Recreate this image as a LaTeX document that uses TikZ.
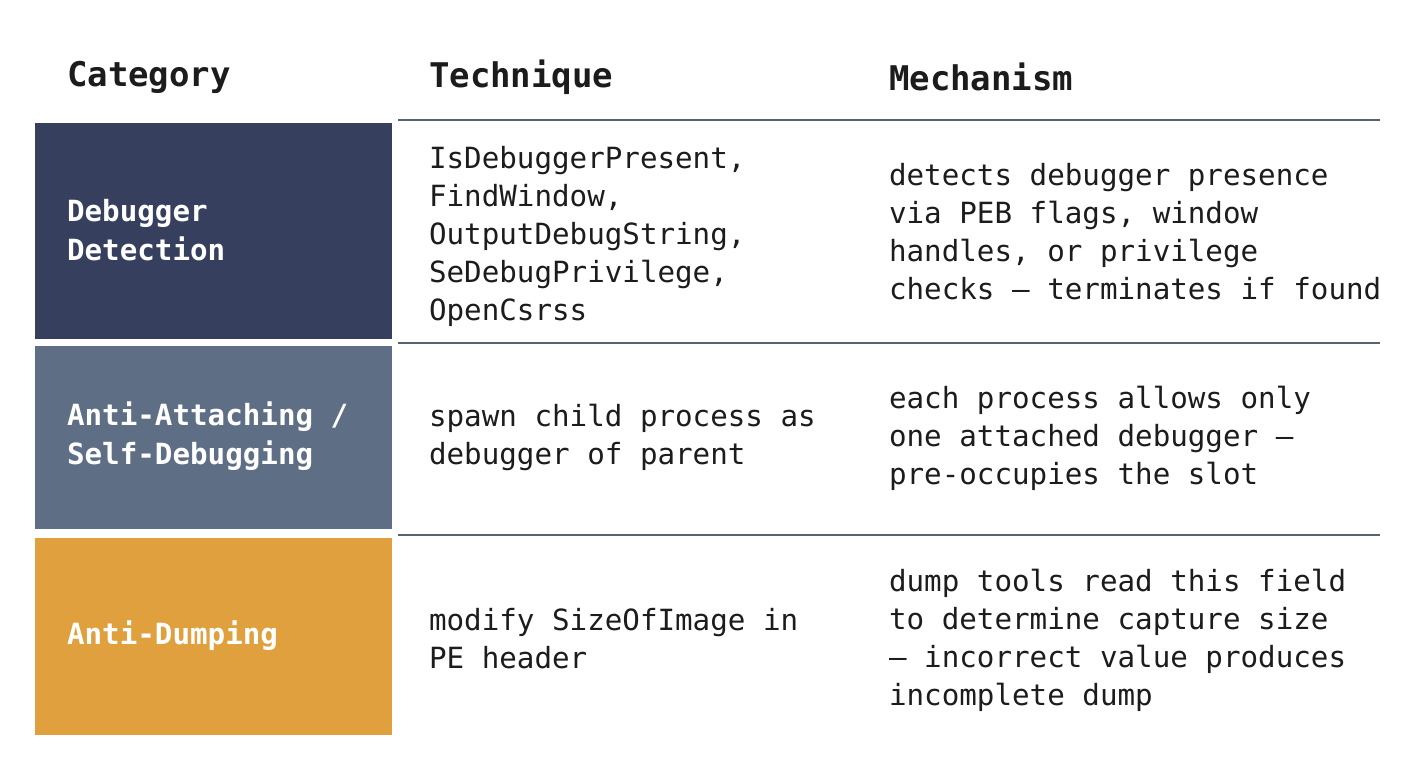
\documentclass[tikz,border=0pt]{standalone}
\usepackage{fontspec}
\setmonofont{DejaVu Sans Mono}
\definecolor{navy}{HTML}{363F5E}
\definecolor{slate}{HTML}{5E6E85}
\definecolor{amber}{HTML}{E0A03E}
\definecolor{ink}{HTML}{1C1C1C}
\definecolor{rule}{HTML}{5A6272}
\tikzset{
  head/.style={anchor=west, text=ink, font=\ttfamily\bfseries\fontsize{17}{21}\selectfont},
  cell/.style={anchor=west, align=left, text=ink, font=\ttfamily\fontsize{14.6}{19}\selectfont},
  cat/.style={anchor=west, align=left, text=white, font=\ttfamily\bfseries\fontsize{14.6}{19.5}\selectfont},
}
\begin{document}
\begin{tikzpicture}[x=0.5pt,y=-0.5pt]
    \useasboundingbox[fill=white] (0,0) rectangle (1408,768);

    % headers
    \node[head] (hcat) at (60,77) {Category};
    \node[head] (htec) at (422,77) {Technique};
    \node[head] (hmec) at (882,77) {Mechanism};

    % rules
    \draw[rule, line width=0.6pt] (398,120) -- (1380,120);
    \draw[rule, line width=0.6pt] (398,343) -- (1380,343);
    \draw[rule, line width=0.6pt] (398,535) -- (1380,535);

    % category boxes
    \fill[navy] (35,123) rectangle (392,339);
    \fill[slate] (35,346) rectangle (392,529);
    \fill[amber] (35,538) rectangle (392,735);

    \node[cat] (c1) at (60,230) {Debugger\\Detection};
    \node[cat] (c2) at (60,436) {Anti-Attaching /\\Self-Debugging};
    \node[cat] (c3) at (60,636) {Anti-Dumping};

    % technique column
    \node[cell] (t1) at (422,236) {IsDebuggerPresent,\\FindWindow,\\OutputDebugString,\\SeDebugPrivilege,\\OpenCsrss};
    \node[cell] (t2) at (422,437) {spawn child process as\\debugger of parent};
    \node[cell] (t3) at (422,639) {modify SizeOfImage in\\PE header};

    % mechanism column
    \node[cell] (m1) at (882,232) {detects debugger presence\\via PEB flags, window\\handles, or privilege\\checks — terminates if found};
    \node[cell] (m2) at (882,438) {each process allows only\\one attached debugger —\\pre-occupies the slot};
    \node[cell] (m3) at (882,640) {dump tools read this field\\to determine capture size\\— incorrect value produces\\incomplete dump};
\end{tikzpicture}
\end{document}
